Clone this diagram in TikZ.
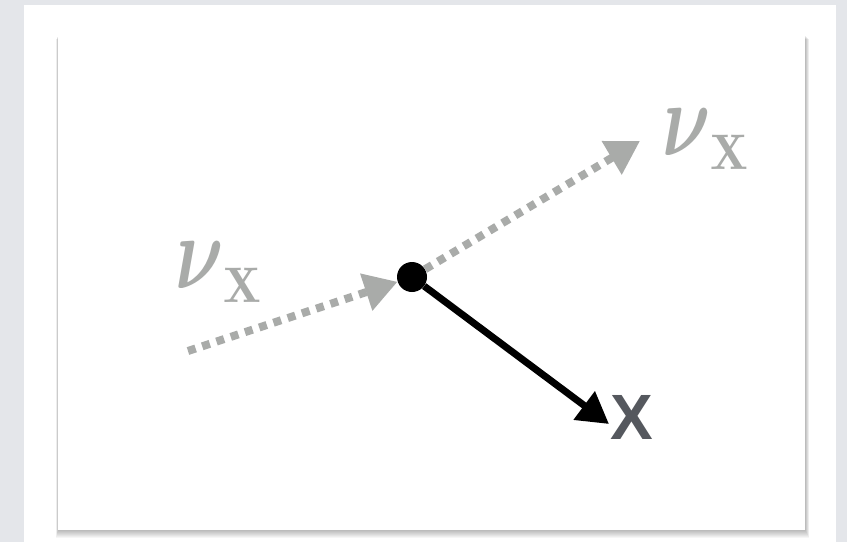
\documentclass[tikz,border=0pt]{standalone}
\usepackage{amsmath}
\usepackage{fontspec}
\newfontfamily\labelsans{Liberation Sans}
\usetikzlibrary{arrows.meta,positioning,calc}

\definecolor{pagegrey}{HTML}{E4E6EA}
\definecolor{nugrey}{HTML}{A9ABA9}
\definecolor{xgrey}{HTML}{55585E}

\newcommand{\nuX}{\scalebox{2.41}{\Huge$\scalebox{1.25}[1.75]{$\boldsymbol{\nu}$}_{\mathbf{X}}$}}

\tikzset{
  nulabel/.style={text=nugrey,inner sep=0pt},
  flow/.style={draw=nugrey,line width=8pt,dash pattern=on 8pt off 7pt,
    -{Triangle[length=33pt,width=37pt,fill=nugrey]}},
  outgoing/.style={line width=7pt,-{Triangle[length=31pt,width=34pt]}},
  vertexdot/.style={circle,fill,inner sep=0pt,minimum size=30pt}
}

\begin{document}
\begin{tikzpicture}[x=1pt,y=-1pt]
  \useasboundingbox (0,0) rectangle (847,542);
  \fill[pagegrey] (0,0) rectangle (847,542);
  \fill[white] (24,5) rectangle (836,542);
  % card with its shadow
  \foreach \s in {1,...,8}
    \fill[black,opacity=0.035] (58-\s/4,35+\s/2) rectangle (805+\s/2,530+\s);
  \fill[white] (58,35) rectangle (805,530);

  \node[vertexdot] (hit) at (412,277) {};
  \coordinate (src) at (188,351);
  \coordinate (dst) at (640,141);
  \coordinate (out) at (609,424);

  \draw[flow] (src) -- (hit);
  \draw[flow] (hit) -- (dst);
  \draw[outgoing] (hit) -- (out);

  \node[nulabel] (nuin) at (219,272) {\nuX};
  \node[nulabel] (nuout) at (706,139) {\nuX};
  \node[text=xgrey,inner sep=0pt,font=\labelsans\bfseries\fontsize{64}{64}\selectfont] (xlabel) at (632,417) {X};
\end{tikzpicture}
\end{document}
